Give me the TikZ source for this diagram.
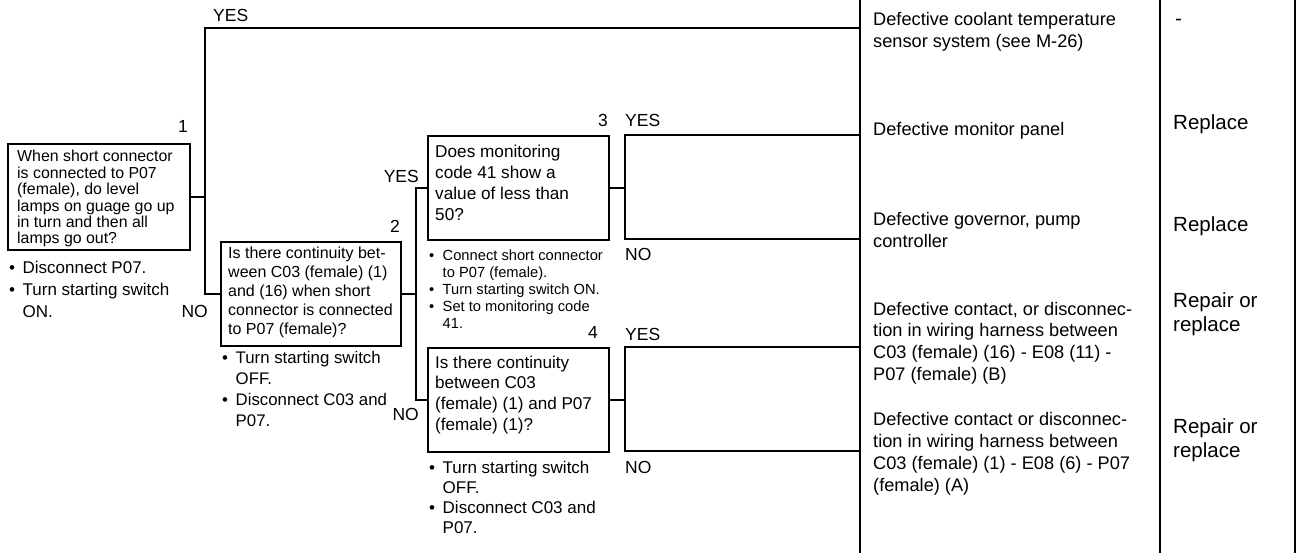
\documentclass[tikz,border=0pt]{standalone}
\usepackage{fontspec}
\setmainfont{Liberation Sans}
\newcommand\bitem{\makebox[13.5pt][l]{\textbullet}}
\newcommand\bcont{\makebox[13.5pt][l]{}}
\begin{document}
\begin{tikzpicture}[x=1pt,y=-1pt,
  wire/.style={line width=2pt},
  qbox/.style={draw, line width=2pt, anchor=north west, inner sep=0pt},
  lbl/.style={font=\fontsize{17.5}{21}\selectfont, inner sep=0pt, anchor=base west},
  nlbl/.style={lbl, anchor=base east},
  para/.style 2 args={font=\fontsize{#1}{#2}\selectfont, anchor=north west,
    align=left, inner sep=0pt, yshift={0.7*#2pt}},
]
\useasboundingbox (0,0) rectangle (1300,553);

% result / remedy columns
\coordinate (colA-top) at (860,0);   \coordinate (colA-bot) at (860,553);
\coordinate (colB-top) at (1160,0);  \coordinate (colB-bot) at (1160,553);
\coordinate (colC-top) at (1295,0);  \coordinate (colC-bot) at (1295,553);
\draw[wire] (colA-top) -- (colA-bot);
\draw[wire] (colB-top) -- (colB-bot);
\draw[wire] (colC-top) -- (colC-bot);

% question boxes
\node[qbox, minimum width=182pt, minimum height=106pt] (b1) at (7,143) {};
\node[qbox, minimum width=180pt, minimum height=104pt] (b2) at (220,241) {};
\node[qbox, minimum width=181pt, minimum height=104pt] (b3) at (427,135) {};
\node[qbox, minimum width=181pt, minimum height=104pt] (b4) at (427,347) {};

% box texts
\node[para={15.9}{16.1}] (t1) at (17,161) {\strut When short connector\\is connected to P07\\(female), do level\\lamps on guage go up\\in turn and then all\\lamps go out?};
\node[para={16}{19}] (t2) at (228,258) {\strut Is there continuity bet-\\ween C03 (female) (1)\\and (16) when short\\connector is connected\\to P07 (female)?};
\node[para={17.2}{21}] (t3) at (435,157) {\strut Does monitoring\\code 41 show a\\value of less than\\50?};
\node[para={17.1}{20.7}] (t4) at (435,368) {\strut Is there continuity\\between C03\\(female) (1) and P07\\(female) (1)?};

% check procedures under the boxes
\node[para={17}{22}] (p1) at (9,273) {\strut\bitem Disconnect P07.\\\bitem Turn starting switch\\\bcont ON.};
\node[para={16.8}{21}] (p2) at (222,363) {\strut\bitem Turn starting switch\\\bcont OFF.\\\bitem Disconnect C03 and\\\bcont P07.};
\node[para={14.7}{17}] (p3) at (429,260) {\strut\bitem Connect short connector\\\bcont to P07 (female).\\\bitem Turn starting switch ON.\\\bitem Set to monitoring code\\\bcont 41.};
\node[para={17}{20}] (p4) at (429,473) {\strut\bitem Turn starting switch\\\bcont OFF.\\\bitem Disconnect C03 and\\\bcont P07.};

% step numbers
\node[nlbl] (n1) at (188,133) {1};
\node[nlbl] (n2) at (400,233) {2};
\node[nlbl] (n3) at (608,127) {3};
\node[nlbl] (n4) at (598,338) {4};

% junctions
\coordinate (j1) at (205,28);
\coordinate (j2) at (416,0);
\coordinate (j3) at (625,0);
\coordinate (r0) at (860,28);
\coordinate (r3t) at (860,135);
\coordinate (r3b) at (860,239);
\coordinate (r4t) at (860,347);
\coordinate (r4b) at (860,451);

% connectors
\draw[wire] (r0) -- (j1) |- (b2.west);
\draw[wire] (b1.east) -- (b1.east -| j1);
\draw[wire] (b2.east) -- (b2.east -| j2);
\draw[wire] (b3.west) -| (b4.west -| j2) -- (b4.west);
\draw[wire] (b3.east) -- (b3.east -| j3);
\draw[wire] (r3t) -| (r3b -| j3) -- (r3b);
\draw[wire] (b4.east) -- (b4.east -| j3);
\draw[wire] (r4t) -| (r4b -| j3) -- (r4b);

% branch labels
\node[lbl] (y1) at (213,22) {YES};
\node[nlbl] (no1) at (208,317) {NO};
\node[nlbl] (y2) at (419,183) {YES};
\node[nlbl] (no2) at (419,420) {NO};
\node[lbl] (y3) at (625,127) {YES};
\node[lbl] (no3) at (625,260) {NO};
\node[lbl] (y4) at (625,340) {YES};
\node[lbl] (no4) at (625,473) {NO};

% causes
\node[para={18.2}{22}] (c1) at (873,25) {\strut Defective coolant temperature\\sensor system (see M-26)};
\node[para={18.2}{22}] (c2) at (873,135) {\strut Defective monitor panel};
\node[para={18.2}{22}] (c3) at (873,225) {\strut Defective governor, pump\\controller};
\node[para={18.2}{21.7}] (c4) at (873,315) {\strut Defective contact, or disconnec-\\tion in wiring harness between\\C03 (female) (16) - E08 (11) -\\P07 (female) (B)};
\node[para={18.2}{22}] (c5) at (873,425) {\strut Defective contact or disconnec-\\tion in wiring harness between\\C03 (female) (1) - E08 (6) - P07\\(female) (A)};

% remedies
\node[para={20.5}{24.5}] (m1) at (1175,25) {\strut -};
\node[para={20.5}{24.5}] (m2) at (1173,129) {\strut Replace};
\node[para={20.5}{24.5}] (m3) at (1173,231) {\strut Replace};
\node[para={20.5}{24.5}] (m4) at (1173,307) {\strut Repair or\\replace};
\node[para={20.5}{24.5}] (m5) at (1173,433) {\strut Repair or\\replace};
\end{tikzpicture}
\end{document}
